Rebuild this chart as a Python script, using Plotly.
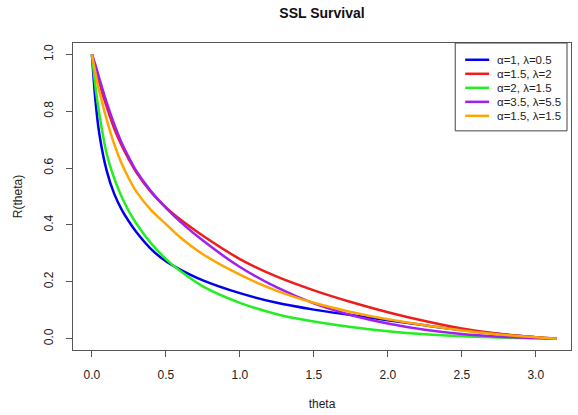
import plotly.graph_objects as go

# ---- data ----
theta = [0, 0.025, 0.05, 0.1, 0.15, 0.2, 0.25, 0.3, 0.4, 0.5, 0.6, 0.75, 1.0, 1.25,
         1.5, 1.75, 2.0, 2.25, 2.5, 2.75, 3.0, 3.1416]

r_a1_l05 = [1.0, 0.83, 0.72, 0.59, 0.51, 0.455, 0.412, 0.375, 0.315, 0.272, 0.242,
            0.205, 0.160, 0.126, 0.102, 0.083, 0.065, 0.047, 0.030, 0.016, 0.005, 0.0]
r_a15_l2 = [1.0, 0.95, 0.90, 0.815, 0.74, 0.68, 0.63, 0.585, 0.515, 0.462, 0.418,
            0.362, 0.280, 0.218, 0.170, 0.129, 0.093, 0.062, 0.036, 0.017, 0.005, 0.0]
r_a2_l15 = [1.0, 0.88, 0.79, 0.65, 0.565, 0.50, 0.448, 0.405, 0.335, 0.280, 0.237,
            0.184, 0.126, 0.086, 0.060, 0.041, 0.026, 0.015, 0.008, 0.004, 0.001, 0.0]
r_a35_l55 = [1.0, 0.96, 0.915, 0.83, 0.755, 0.69, 0.637, 0.59, 0.518, 0.46, 0.41,
             0.345, 0.252, 0.180, 0.124, 0.083, 0.053, 0.031, 0.016, 0.007, 0.002, 0.0]
r_a15_l15 = [1.0, 0.93, 0.87, 0.77, 0.685, 0.617, 0.563, 0.517, 0.452, 0.403, 0.355,
             0.297, 0.225, 0.168, 0.126, 0.094, 0.068, 0.047, 0.029, 0.015, 0.005, 0.0]

series_names = ["α=1, λ=0.5", "α=1.5, λ=2", "α=2, λ=1.5", "α=3.5, λ=5.5", "α=1.5, λ=1.5"]
series_values = [r_a1_l05, r_a15_l2, r_a2_l15, r_a35_l55, r_a15_l15]
series_colors = ["#0000EE", "#EE1C1C", "#22EE22", "#A020F0", "#FFA500"]

x_ticks = [0.0, 0.5, 1.0, 1.5, 2.0, 2.5, 3.0]
x_tick_labels = ["0.0", "0.5", "1.0", "1.5", "2.0", "2.5", "3.0"]
y_ticks = [0.0, 0.2, 0.4, 0.6, 0.8, 1.0]
y_tick_labels = ["0.0", "0.2", "0.4", "0.6", "0.8", "1.0"]

# ---- layout geometry (pixels) ----
W, H = 578, 415
L, R, T, B = 73, 572, 43, 354
FONT = "Liberation Sans, Arial, Helvetica, sans-serif"
TXT = "#222222"


def px_x(p):
    return (p - L) / (R - L)


def px_y(p):
    return (B - p) / (B - T)


fig = go.Figure()
for name, vals, col in zip(series_names, series_values, series_colors):
    fig.add_trace(go.Scatter(x=theta, y=vals, mode="lines", name=name,
                             line=dict(color=col, width=2.5, shape="spline", smoothing=0.9),
                             showlegend=False))

# manual R-style legend box
shapes = [dict(type="rect", xref="paper", yref="paper",
               x0=px_x(456), x1=px_x(568), y0=px_y(132), y1=px_y(43),
               line=dict(color="#444444", width=1), fillcolor="white", layer="above")]
annotations = []
for i, (name, col) in enumerate(zip(series_names, series_colors)):
    yy = 60 + 14.2 * i
    shapes.append(dict(type="line", xref="paper", yref="paper",
                       x0=px_x(466), x1=px_x(490), y0=px_y(yy), y1=px_y(yy),
                       line=dict(color=col, width=2.5), layer="above"))
    annotations.append(dict(text=name, xref="paper", yref="paper",
                            x=px_x(496), y=px_y(yy), xanchor="left", yanchor="middle",
                            showarrow=False, font=dict(family=FONT, size=11.5, color=TXT)))

axis_common = dict(showgrid=False, zeroline=False, showline=True, mirror=True,
                   linecolor="#555555", linewidth=1, ticks="outside", ticklen=6,
                   tickcolor="#555555", tickfont=dict(family=FONT, size=12, color=TXT))

fig.update_layout(
    width=W, height=H,
    margin=dict(l=L, r=W - R, t=T, b=H - B),
    paper_bgcolor="white", plot_bgcolor="white",
    title=dict(text="<b>SSL Survival</b>", x=0.5, xref="paper", y=1 - 13.5 / H,
               yanchor="middle", font=dict(family=FONT, size=14, color="#111111")),
    xaxis=dict(range=[-0.128, 3.238], tickvals=x_ticks, ticktext=x_tick_labels,
               ticklabelstandoff=8,
               title=dict(text="theta", standoff=18, font=dict(family=FONT, size=12, color=TXT)),
               **axis_common),
    yaxis=dict(range=[-0.04, 1.04], tickvals=y_ticks, ticktext=y_tick_labels,
               tickangle=-90, ticklabelstandoff=8,
               title=dict(text="R(theta)", standoff=17, font=dict(family=FONT, size=12, color=TXT)),
               **axis_common),
    shapes=shapes, annotations=annotations, showlegend=False,
)

fig.write_html("out.html", config={"displayModeBar": False},
               post_script="document.body.style.margin='0';document.body.style.padding='0';")
